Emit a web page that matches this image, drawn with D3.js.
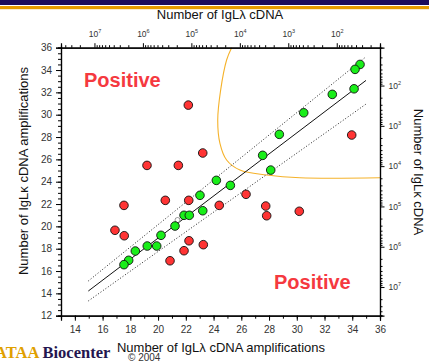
<!DOCTYPE html>
<html>
<head>
<meta charset="utf-8">
<script src="https://cdn.jsdelivr.net/npm/d3@7"></script>
<style>
  body { margin: 0; background: #fff; }
  svg { display: block; font-family: "Liberation Sans", Arial, sans-serif; }
</style>
</head>
<body>
<div class="chart"></div>
<script>
// data
const greenX = [34.56, 34.2, 34.13, 32.56, 30.5, 28.74, 27.54, 28.12, 24.2, 25.21, 23.02, 23.22, 21.87, 22.25, 21.22, 20.21, 19.22, 19.9, 18.36, 17.88, 17.54];
const greenY = [34.5, 34.06, 32.32, 31.82, 30.17, 28.24, 26.36, 25.04, 24.12, 23.67, 22.78, 21.4, 20.99, 20.99, 20.03, 19.2, 18.24, 18.24, 17.79, 16.96, 16.57];
const redX = [22.18, 23.22, 19.2, 21.46, 33.96, 17.54, 16.89, 17.56, 20.52, 22.21, 24.41, 22.23, 21.87, 23.26, 20.86, 26.34, 27.76, 27.83, 30.18];
const redY = [30.86, 26.57, 25.46, 25.46, 28.18, 21.88, 19.65, 19.16, 22.33, 22.33, 21.88, 18.71, 17.82, 18.36, 16.92, 22.87, 21.82, 20.95, 21.35];
const hollowX = [21.4];
const hollowY = [20.57];
// regression line and its two dotted bands (end points)
const fitX = [14.97, 34.99];
const fitY = [14.21, 33.07];
const upperY = [15.11, 35.19];
const lowerY = [13.32, 30.95];
// orange boundary curve
const curveX = [25.3, 24.94, 24.51, 24.3, 24.46, 24.94, 25.9, 27.83, 30.23, 36];
const curveY = [36, 34.9, 32.2, 29.5, 27.43, 25.94, 25.04, 24.6, 24.35, 24.35];
// tick values
const xTicks = [14, 16, 18, 20, 22, 24, 26, 28, 30, 32, 34, 36];
const yTicks = [12, 14, 16, 18, 20, 22, 24, 26, 28, 30, 32, 34, 36];
const logExp = [2, 3, 4, 5, 6, 7];

const W = 429, H = 362;
const svg = d3.select('.chart').append('svg')
  .attr('width', W)
  .attr('height', H);

// header bars
svg.append('rect').attr('x', 0).attr('y', 0).attr('width', W).attr('height', 5).attr('fill', '#1b0c5c');
svg.append('rect').attr('x', 0).attr('y', 6).attr('width', W).attr('height', 3.2).attr('fill', '#e69c00');

const x = d3.scaleLinear().domain([13, 36]).range([61, 380]);
const y = d3.scaleLinear().domain([12, 36]).range([315.7, 47.7]);
const xTop = d3.scaleLog().domain([4.9e7, 12.8]).range([61, 380]);
const yRight = d3.scaleLog().domain([11.5, 5.15e7]).range([47.7, 315.7]);

const majorLog = logExp.map(e => Math.pow(10, e));
const minorLog = [];
for (let e = 1; e <= 7; e++) {
  for (let k = 2; k <= 9; k++) minorLog.push(k * Math.pow(10, e));
}

// orange curve
svg.append('path')
  .datum(curveX.map((d, i) => [d, curveY[i]]))
  .attr('fill', 'none')
  .attr('stroke', '#f5b22a')
  .attr('stroke-width', 1.1)
  .attr('d', d3.line().x(d => x(d[0])).y(d => y(d[1])).curve(d3.curveCatmullRom.alpha(0.5)));

// fit lines
const line = d3.line().x(d => x(d[0])).y(d => y(d[1]));
svg.append('path')
  .datum(fitX.map((d, i) => [d, fitY[i]]))
  .attr('d', line).attr('stroke', '#111').attr('stroke-width', 1).attr('fill', 'none');
[upperY, lowerY].forEach(arr => {
  svg.append('path')
    .datum(fitX.map((d, i) => [d, arr[i]]))
    .attr('d', line).attr('stroke', '#222').attr('stroke-width', 1)
    .attr('stroke-dasharray', '1,2').attr('fill', 'none');
});

// points
svg.selectAll('.red-pt')
  .data(redX.map((d, i) => [d, redY[i]]))
  .enter().append('circle')
  .attr('class', 'red-pt')
  .attr('cx', d => x(d[0])).attr('cy', d => y(d[1]))
  .attr('r', 4.3)
  .attr('fill', '#ff3434').attr('stroke', '#111').attr('stroke-width', 0.9);

svg.selectAll('.hollow-pt')
  .data(hollowX.map((d, i) => [d, hollowY[i]]))
  .enter().append('circle')
  .attr('cx', d => x(d[0])).attr('cy', d => y(d[1]))
  .attr('r', 2.5)
  .attr('fill', '#fff').attr('stroke', '#555').attr('stroke-width', 0.6);

svg.selectAll('.green-pt')
  .data(greenX.map((d, i) => [d, greenY[i]]))
  .enter().append('circle')
  .attr('class', 'green-pt')
  .attr('cx', d => x(d[0])).attr('cy', d => y(d[1]))
  .attr('r', 4.3)
  .attr('fill', '#19ee19').attr('stroke', '#111').attr('stroke-width', 0.9);

// axes -----------------------------------
function style(g) {
  g.select('.domain').attr('stroke', '#000').attr('stroke-width', 1.2);
  g.selectAll('.tick line').attr('stroke', '#000');
  g.selectAll('.tick text').attr('fill', '#333').attr('font-size', 10)
    .attr('font-family', '"Liberation Sans", Arial, sans-serif');
}

// bottom
svg.append('g').attr('transform', 'translate(0,315.7)')
  .call(d3.axisBottom(x).tickValues(d3.range(13, 37, 1)).tickSize(3).tickFormat(''))
  .call(style);
svg.append('g').attr('transform', 'translate(0,315.7)')
  .call(d3.axisBottom(x).tickValues(xTicks).tickSize(5).tickPadding(5))
  .call(style);

// left
svg.append('g').attr('transform', 'translate(61,0)')
  .call(d3.axisLeft(y).tickValues(d3.range(12, 36.01, 0.5)).tickSize(3).tickFormat(''))
  .call(style);
svg.append('g').attr('transform', 'translate(61,0)')
  .call(d3.axisLeft(y).tickValues(yTicks).tickSize(5).tickPadding(4))
  .call(style);

// top (log, reversed)
svg.append('g').attr('transform', 'translate(0,47.7)')
  .call(d3.axisTop(xTop).tickValues(minorLog.filter(v => v >= 12.8 && v <= 4.9e7)).tickSize(2.5).tickFormat(''))
  .call(style);
const topAx = svg.append('g').attr('transform', 'translate(0,47.7)')
  .call(d3.axisTop(xTop).tickValues(majorLog).tickSize(4.5).tickPadding(6).tickFormat(''))
  .call(style);
topAx.selectAll('.tick text')
  .attr('font-size', 8.5)
  .each(function(d) {
    const t = d3.select(this);
    t.text('10');
    t.append('tspan').attr('dy', -4).attr('font-size', 5.5).text(Math.round(Math.log10(d)));
  });

// right (log)
svg.append('g').attr('transform', 'translate(380,0)')
  .call(d3.axisRight(yRight).tickValues(minorLog.filter(v => v >= 11.5 && v <= 5.15e7)).tickSize(2.5).tickFormat(''))
  .call(style);
const rightAx = svg.append('g').attr('transform', 'translate(380,0)')
  .call(d3.axisRight(yRight).tickValues(majorLog).tickSize(4.5).tickPadding(4).tickFormat(''))
  .call(style);
rightAx.selectAll('.tick text')
  .attr('font-size', 8.5)
  .each(function(d) {
    const t = d3.select(this);
    t.text('10');
    t.append('tspan').attr('dy', -4).attr('font-size', 5.5).text(Math.round(Math.log10(d)));
  });

// axis titles
svg.append('text')
  .attr('x', 220).attr('y', 19)
  .attr('text-anchor', 'middle')
  .attr('font-size', 13).attr('fill', '#111')
  .text('Number of IgLλ cDNA');

svg.append('text')
  .attr('x', 221).attr('y', 351.5)
  .attr('text-anchor', 'middle')
  .attr('font-size', 13).attr('fill', '#111')
  .text('Number of IgLλ cDNA amplifications');

svg.append('text')
  .attr('transform', 'translate(27.5,171) rotate(-90)')
  .attr('text-anchor', 'middle')
  .attr('font-size', 13).attr('fill', '#111')
  .text('Number of IgLκ cDNA amplifications');

svg.append('text')
  .attr('transform', 'translate(413.5,172) rotate(90)')
  .attr('text-anchor', 'middle')
  .attr('font-size', 13).attr('fill', '#111')
  .text('Number of IgLκ cDNA');

// "Positive" labels
svg.append('text')
  .attr('x', 84).attr('y', 86.7)
  .attr('font-size', 20).attr('font-weight', 'bold').attr('fill', '#f5393f')
  .text('Positive');
svg.append('text')
  .attr('x', 274).attr('y', 289)
  .attr('font-size', 20).attr('font-weight', 'bold').attr('fill', '#f5393f')
  .text('Positive');

// footer logo
const logo = svg.append('text')
  .attr('x', -5).attr('y', 358)
  .attr('font-family', '"Liberation Serif", "Times New Roman", serif')
  .attr('font-weight', 'bold').attr('font-size', 16.5);
logo.append('tspan').attr('fill', '#e0a000').text('ATAA ');
logo.append('tspan').attr('fill', '#24164f').text('Biocenter');

svg.append('text')
  .attr('x', 128).attr('y', 360.5)
  .attr('font-size', 10).attr('fill', '#333')
  .text('© 2004');
</script>
</body>
</html>
